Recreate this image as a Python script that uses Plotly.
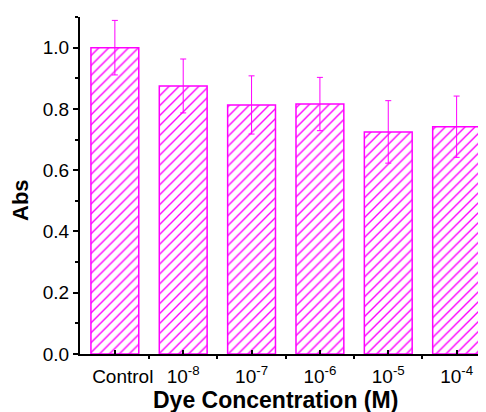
import plotly.graph_objects as go

categories = ["\u00a0\u00a0\u00a0Control", "10<sup>-8</sup>", "10<sup>-7</sup>", "10<sup>-6</sup>", "10<sup>-5</sup>", "10<sup>-4</sup>"]
abs_values = [1.0, 0.875, 0.813, 0.816, 0.725, 0.742]
abs_errors = [0.089, 0.088, 0.095, 0.087, 0.102, 0.100]

positions = list(range(len(categories)))
MAG = "#FF00FF"
FONT = "Arial, 'Liberation Sans', sans-serif"

# page has an 8px body margin; plot area target (page px): left 80, top 17, bottom 354, right 486
fig = go.Figure()
fig.add_trace(go.Bar(
    x=positions, y=abs_values, width=0.7,
    marker=dict(color="white",
                line=dict(color=MAG, width=1.5),
                pattern=dict(shape="/", fgcolor=MAG, bgcolor="white", size=7, solidity=0.2)),
    error_y=dict(type="data", array=abs_errors, visible=True, color=MAG, thickness=1, width=3),
    showlegend=False,
))

fig.update_layout(
    template="none",
    width=478, height=404,
    margin=dict(l=72, r=0, t=9, b=58, autoexpand=False),
    paper_bgcolor="white", plot_bgcolor="white",
    font=dict(family=FONT, size=19, color="black"),
    xaxis=dict(
        range=[-0.51, 5.43], tickmode="array", tickvals=positions, ticktext=categories,
        showline=True, linecolor="black", linewidth=2, showgrid=False, zeroline=False,
        automargin=False, ticklabelstandoff=4,
        ticks="inside", ticklen=4, tickwidth=2, tickcolor="black",
        minor=dict(ticks="outside", tick0=0.5, dtick=1, ticklen=3, tickwidth=1.5, tickcolor="black"),
        tickfont=dict(size=19),
    ),
    yaxis=dict(
        range=[0, 1.1001], tickmode="linear", tick0=0, dtick=0.2, tickformat=".1f",
        showline=True, linecolor="black", linewidth=2, showgrid=False, zeroline=False,
        automargin=False,
        ticks="outside", ticklen=5, tickwidth=2, tickcolor="black",
        minor=dict(ticks="outside", dtick=0.1, ticklen=3, tickwidth=2, tickcolor="black"),
        tickfont=dict(size=19),
    ),
    annotations=[
        dict(text="<b>Dye Concentration (M)</b>", xref="paper", yref="paper",
             x=(275.5 - 80) / 406, y=(354 - 400) / 337, xanchor="center", yanchor="middle",
             showarrow=False, font=dict(size=23, family=FONT)),
        dict(text="<b>Abs</b>", xref="paper", yref="paper",
             x=(20 - 80) / 406, y=(354 - 200) / 337, xanchor="center", yanchor="middle",
             textangle=-90, showarrow=False, font=dict(size=22, family=FONT)),
    ],
)

fig.write_html("out.html")
